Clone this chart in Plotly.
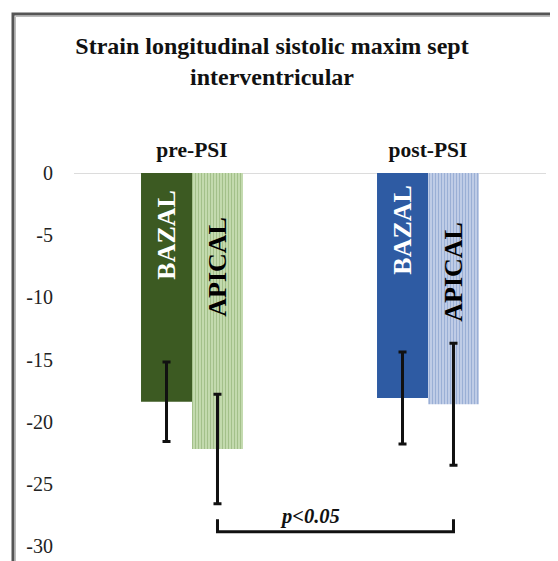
import plotly.graph_objects as go

categories = ["pre-PSI", "post-PSI"]
series_names = ["BAZAL", "APICAL"]
bazal_values = [-18.4, -18.1]
apical_values = [-22.2, -18.6]
bazal_err = [3.2, 3.7]
apical_err = [4.4, 4.9]
y_ticks = [0, -5, -10, -15, -20, -25, -30]
bar_label_y = {"BAZAL": [-5.0, -4.6], "APICAL": [-7.5, -7.9]}
bracket_y_low = -28.85
bracket_y_high = -27.85
p_label = "p<0.05"
p_label_y = -27.6

FONT = "Times New Roman, Liberation Serif, DejaVu Serif, serif"

bazal_colors = ["#3c5a22", "#2e5ba3"]
apical_bg = ["#cde2b9", "#cad6ec"]
apical_fg = ["#7a9d5c", "#6a88bd"]

fig = go.Figure()
for i, cat in enumerate(categories):
    fig.add_trace(go.Bar(
        x=[cat], y=[bazal_values[i]], name="BAZAL", offsetgroup="b",
        marker=dict(color=bazal_colors[i], line=dict(width=0)),
        error_y=dict(type="data", array=[bazal_err[i]], color="#111111",
                     thickness=3, width=4),
        showlegend=False,
    ))
    fig.add_trace(go.Bar(
        x=[cat], y=[apical_values[i]], name="APICAL", offsetgroup="a",
        marker=dict(color=apical_bg[i], line=dict(width=0),
                    pattern=dict(shape="|", fgcolor=apical_fg[i],
                                 bgcolor=apical_bg[i], size=3, solidity=0.5)),
        error_y=dict(type="data", array=[apical_err[i]], color="#111111",
                     thickness=3, width=4),
        showlegend=False,
    ))

half = 0.108
annotations = []
for i in range(len(categories)):
    annotations.append(dict(
        x=i - half, y=bar_label_y["BAZAL"][i], xref="x", yref="y",
        text="<b>BAZAL</b>", textangle=-90, showarrow=False,
        font=dict(family=FONT, size=26, color="white")))
    annotations.append(dict(
        x=i + half, y=bar_label_y["APICAL"][i], xref="x", yref="y",
        text="<b>APICAL</b>", textangle=-90, showarrow=False,
        font=dict(family=FONT, size=26, color="black")))

annotations.append(dict(
    x=0.5, y=p_label_y, xref="x", yref="y", yanchor="middle",
    text="<b><i>" + p_label + "</i></b>", showarrow=False,
    font=dict(family=FONT, size=20.5, color="#111111")))

# page body has an 8px margin, so the figure is drawn 8px in from the window corner
W, H, OFF = 558, 561, 8
L, T = 74, 173
PW, PH = 472, 373

shapes = [
    dict(type="path", xref="x", yref="y",
         path=f"M {0 + half},{bracket_y_high} L {0 + half},{bracket_y_low} "
              f"L {1 + half},{bracket_y_low} L {1 + half},{bracket_y_high}",
         line=dict(color="#111111", width=3)),
    dict(type="rect", xref="paper", yref="paper",
         x0=(13 - L) / PW, x1=1.3, y0=-0.5, y1=(T + PH - 14) / PH,
         line=dict(color="#555555", width=3)),
    dict(type="rect", xref="paper", yref="paper",
         x0=(15.5 - L) / PW, x1=1.3, y0=-0.5, y1=(T + PH - 16.5) / PH,
         line=dict(color="#bbbbbb", width=1)),
]

fig.update_layout(
    width=W - OFF, height=H - OFF,
    margin=dict(l=L - OFF, r=W - L - PW, t=T - OFF, b=H - T - PH, autoexpand=False),
    paper_bgcolor="white", plot_bgcolor="white",
    barmode="group", bargap=0.568, bargroupgap=0,
    title=dict(text="<b>Strain longitudinal sistolic maxim sept<br>interventricular</b>",
               x=(272 - OFF) / (W - OFF), xanchor="center",
               y=1 - (54 - OFF) / (H - OFF), yanchor="middle",
               font=dict(family=FONT, size=24, color="#111111")),
    font=dict(family=FONT, color="#111111"),
    xaxis=dict(type="category", side="top", showgrid=False, showline=False,
               zeroline=False, ticks="", ticklabelstandoff=11, automargin=False,
               tickfont=dict(family=FONT, size=21.5, color="#111111"),
               tickvals=categories,
               ticktext=["<b>" + c + "</b>" for c in categories],
               range=[-0.5, 1.5]),
    yaxis=dict(range=[-30, 0], tickvals=y_ticks, ticktext=[str(t) for t in y_ticks],
               showgrid=False, zeroline=False, showline=False, ticks="",
               ticklabelstandoff=20, automargin=False,
               tickfont=dict(family=FONT, size=20, color="#222222")),
    annotations=annotations,
    shapes=shapes,
)
fig.add_hline(y=0, line=dict(color="#d0d0d0", width=1.5), layer="below")

fig.write_html("out.html")
